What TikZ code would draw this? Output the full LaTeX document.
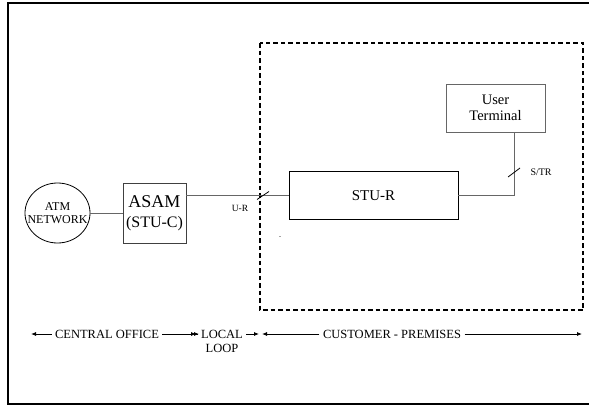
\documentclass[tikz,border=0pt]{standalone}
\usepackage{fontspec}
\setmainfont{Liberation Serif}
\usetikzlibrary{positioning,shapes.geometric,arrows.meta}

\tikzset{
	box/.style={draw, line width=0.9pt, inner sep=0pt, align=center},
	link/.style={draw=black!60, line width=0.9pt},
	tick/.style={line width=0.8pt},
	span/.style={-{Latex[length=5pt,width=4pt]}, line width=0.8pt},
	legend/.style={font=\fontsize{12.5}{14}\selectfont},
}

\begin{document}
\begin{tikzpicture}[x=1pt,y=-1pt]
	\useasboundingbox (0,0) rectangle (589,407);
	% frame, open on the right
	\draw [line width=2.5pt] (589,3) -- (8,3) -- (8,404) -- (589,404);
	% customer premises
	\draw [line width=1.5pt, dash pattern=on 4.5pt off 3pt] (260,43) rectangle (583,310);

	\node [ellipse, draw, line width=0.8pt, minimum width=65pt, minimum height=60pt, inner sep=0pt,
		label={[align=center, font=\fontsize{12}{13}\selectfont]center:{ATM\\NETWORK}}] (atm) at (57.5,213) {};
	\node [box, draw=black!75, minimum width=63pt, minimum height=60pt, font=\fontsize{16}{20}\selectfont] (asam) at (154.5,213) {{\fontsize{18}{20}\selectfont ASAM}\\(STU-C)};
	\node [box, minimum width=169pt, minimum height=48pt, font=\fontsize{15}{17}\selectfont] (stur) at (373.5,195.5) {STU-R};
	\node [box, draw=black!60, minimum width=99pt, minimum height=48pt, font=\fontsize{14.5}{16}\selectfont] (term) at (495.5,108) {User\\Terminal};

	\draw [link] (atm) -- (asam);
	\draw [link] (asam.east |- stur.west) -- (stur.west);
	\draw [link] (stur.east) -| ([xshift=18.5pt]term.south);

	% reference points
	\coordinate (ur) at (263,195.5);
	\coordinate (st) at (514,172);
	\draw [tick] ([shift={(-6,4)}]ur) -- ([shift={(6,-4)}]ur);
	\draw [tick] ([shift={(-6,5)}]st) -- ([shift={(6,-4)}]st);
	\node [font=\fontsize{9.5}{11}\selectfont] (urlabel) at (240,208) {U-R};
	\node [anchor=west, font=\fontsize{10}{11}\selectfont] (stlabel) at (527,172) {S/TR};
	\node [inner sep=0pt, font=\fontsize{6}{6}\selectfont] (mark) at (280,238) {-};

	% spans
	\node [legend] (co) at (107,334) {CENTRAL OFFICE};
	\node [legend] (local) at (222,334) {LOCAL};
	\node [legend, below=-1pt of local] (loop) {LOOP};
	\node [legend] (cust) at (392,334) {CUSTOMER - PREMISES};
	\coordinate (c0) at (31,334);
	\coordinate (c1) at (196,334);
	\coordinate (c2) at (199,334);
	\coordinate (c3) at (259,334);
	\coordinate (c4) at (262,334);
	\coordinate (c5) at (582,334);
	\draw [span] (co) -- (c0);
	\draw [span] (co) -- (c1);
	\draw [span] (local) -- (c2);
	\draw [span] (local) -- (c3);
	\draw [span] (cust) -- (c4);
	\draw [span] (cust) -- (c5);
\end{tikzpicture}
\end{document}
